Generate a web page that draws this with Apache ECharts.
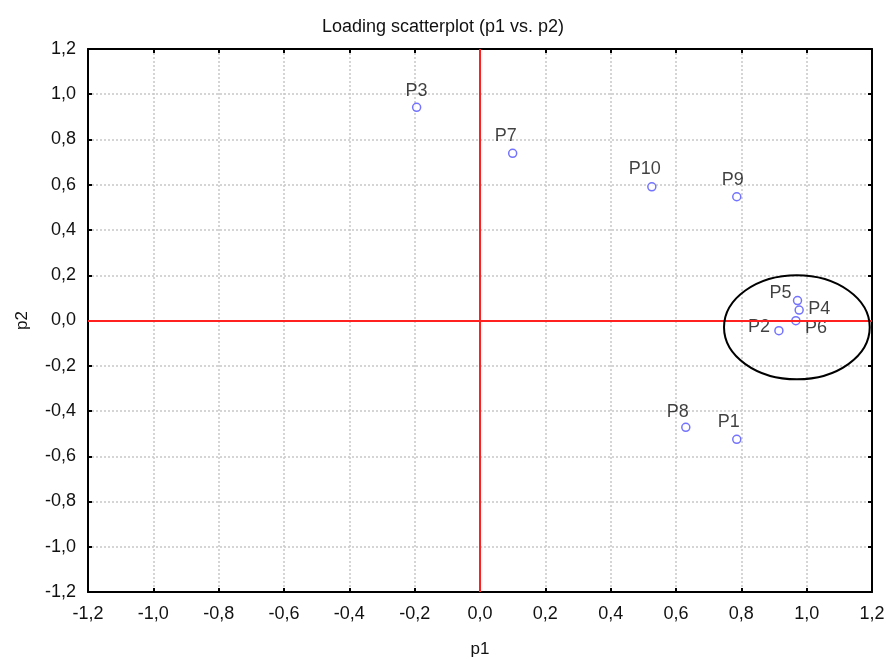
<!DOCTYPE html>
<html><head><meta charset="utf-8">
<script src="https://cdn.jsdelivr.net/npm/echarts@6/dist/echarts.min.js"></script>
<style>html,body{margin:0;padding:0;background:#fff}#c{width:886px;height:660px}</style>
</head><body><div id="c"></div>
<script>
var names = ['P1','P2','P3','P4','P5','P6','P7','P8','P9','P10'];
var p1 = [0.786, 0.915, -0.194, 0.977, 0.972, 0.967, 0.100, 0.630, 0.786, 0.526];
var p2 = [-0.525, -0.045, 0.942, 0.046, 0.088, -0.001, 0.739, -0.472, 0.547, 0.591];
var axisMin = -1.2, axisMax = 1.2, axisStep = 0.2;

// label placement (style, not data)
var labelOffsets = {
  P1:[-8,-17], P2:[-20,-4], P3:[0,-16], P4:[20,-1], P5:[-17,-8],
  P6:[20,7], P7:[-7,-17], P8:[-8,-15], P9:[-4,-17], P10:[-7,-18]
};

var FONT = 'Liberation Sans, Arial, Helvetica, sans-serif';
var TXT = '#111';
function fmt(v){ return v.toFixed(1).replace('.', ','); }

var data = names.map(function(n,i){
  return {
    name:n, value:[p1[i], p2[i]],
    label:{show:true, formatter:n, position:'inside', offset:labelOffsets[n],
      color:TXT, fontSize:18, fontFamily:FONT}
  };
});

var chart = echarts.init(document.getElementById('c'), null, {renderer:'canvas'});
var baseAxis = {
  min:axisMin, max:axisMax, interval:axisStep,
  axisLine:{show:true, onZero:false, lineStyle:{color:'#000', width:2}},
  axisTick:{show:true, inside:true, length:4, lineStyle:{color:'#000', width:2}},
  splitLine:{show:false}
};
var gridStyle = {show:true, lineStyle:{color:'#c8c8c8', type:[2,2], width:1.5}};
chart.setOption({
  animation:false,
  backgroundColor:'#fff',
  title:{text:'Loading scatterplot (p1 vs. p2)', left:'center', top:13,
    textStyle:{fontSize:18, fontWeight:'normal', color:TXT, fontFamily:FONT}},
  grid:{left:88, right:14, top:49, bottom:68, containLabel:false, outerBoundsMode:'none'},
  xAxis:[
    Object.assign({}, baseAxis, {type:'value', position:'bottom', name:'p1', nameLocation:'middle', nameGap:49,
      nameTextStyle:{fontSize:17, color:TXT, fontFamily:FONT},
      axisLabel:{formatter:fmt, fontSize:18, color:TXT, margin:13, fontFamily:FONT},
      splitLine:gridStyle}),
    Object.assign({}, baseAxis, {type:'value', position:'top', axisLabel:{show:false}})
  ],
  yAxis:[
    Object.assign({}, baseAxis, {type:'value', position:'left', name:'p2', nameLocation:'middle', nameGap:57,
      nameTextStyle:{fontSize:17, color:TXT, fontFamily:FONT},
      axisLabel:{formatter:fmt, fontSize:18, color:TXT, margin:12, fontFamily:FONT},
      splitLine:gridStyle}),
    Object.assign({}, baseAxis, {type:'value', position:'right', axisLabel:{show:false}})
  ],
  series:[{
    type:'scatter', xAxisIndex:0, yAxisIndex:0,
    symbol:'circle', symbolSize:8,
    itemStyle:{color:'#fff', borderColor:'#5050ff', borderWidth:1.5},
    data:data,
    markLine:{silent:true, symbol:'none', label:{show:false},
      lineStyle:{color:'#ff2020', width:2, type:'solid'},
      data:[{xAxis:0},{yAxis:0}]}
  }]
});

// annotation ellipse around the cluster, placed in data coordinates
var c = chart.convertToPixel({xAxisIndex:0, yAxisIndex:0}, [0.97, -0.03]);
var e1 = chart.convertToPixel({xAxisIndex:0, yAxisIndex:0}, [0.97 + 0.223, -0.03 + 0.23]);
chart.setOption({graphic:[{type:'ellipse', z:100,
  shape:{cx:c[0], cy:c[1], rx:Math.abs(e1[0]-c[0]), ry:Math.abs(e1[1]-c[1])},
  style:{fill:'none', stroke:'#000', lineWidth:2}}]});
</script></body></html>
